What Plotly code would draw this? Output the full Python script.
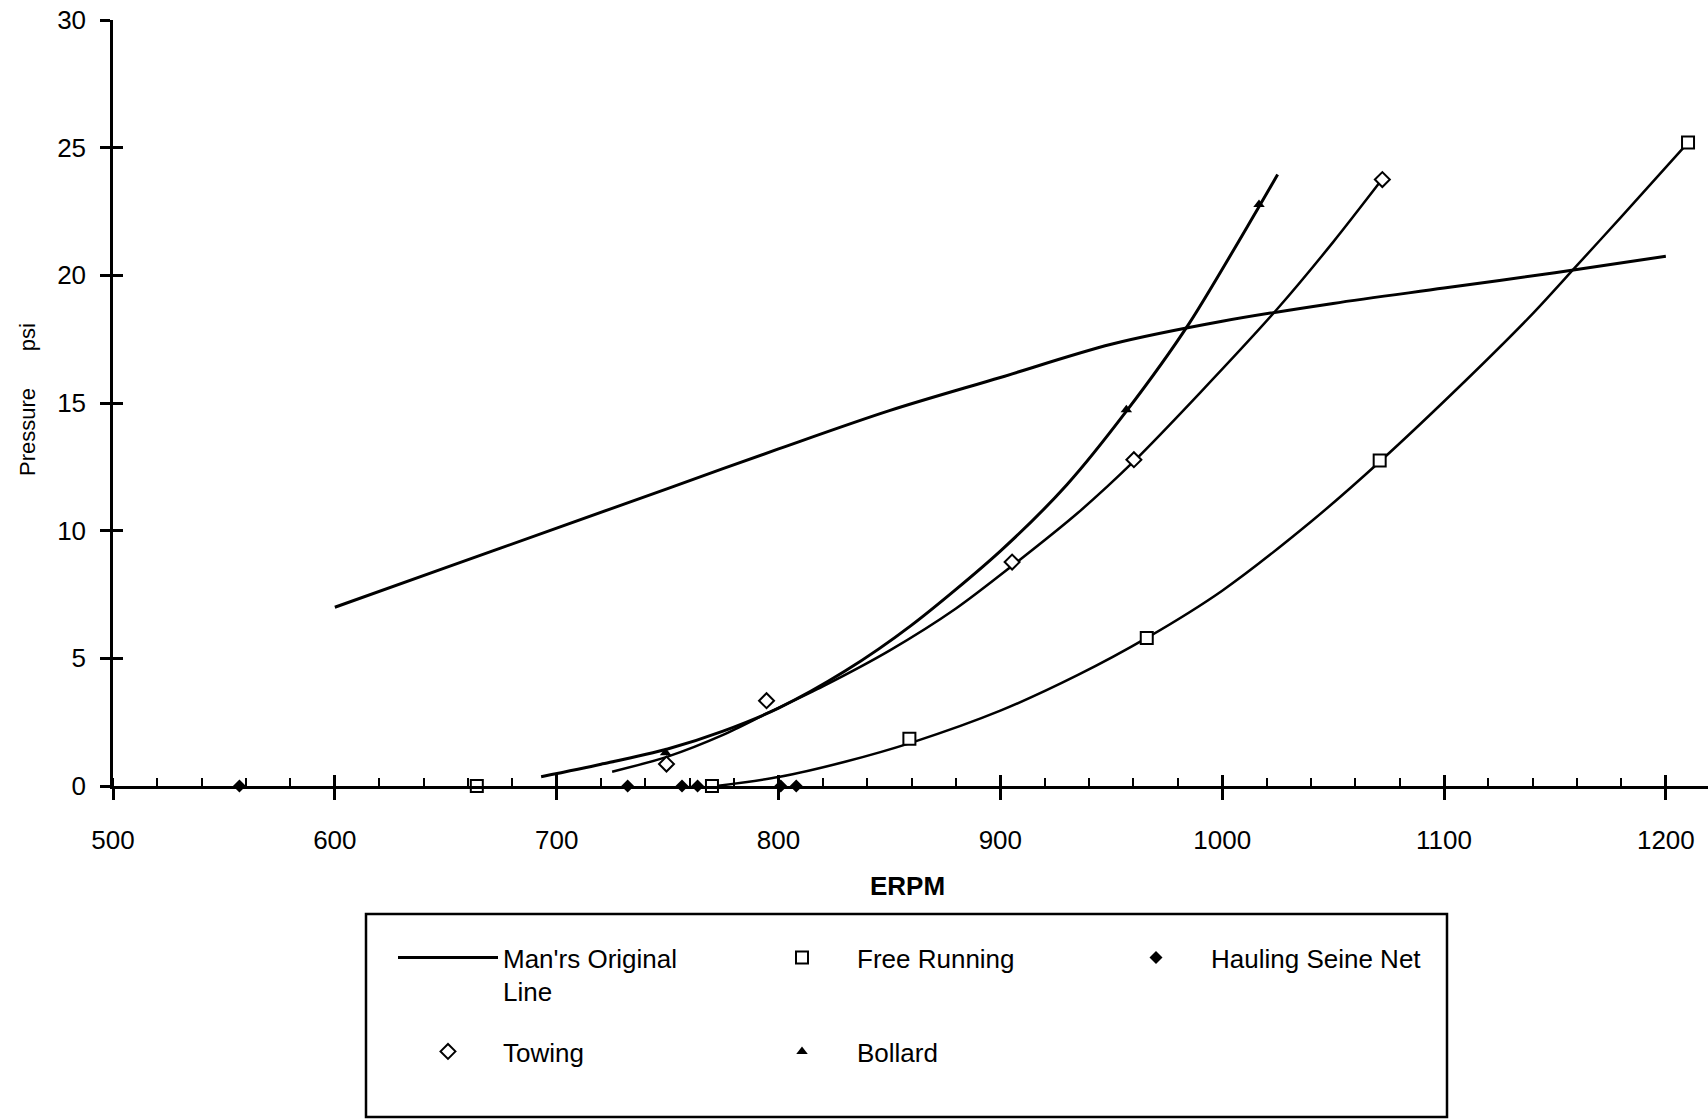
import plotly.graph_objects as go

# ---------------- data ----------------
man_x = [600, 650, 700, 750, 800, 850, 900, 950, 1000, 1050, 1100, 1150, 1200]
man_y = [7.0, 8.55, 10.1, 11.65, 13.2, 14.7, 16.0, 17.3, 18.2, 18.9, 19.5, 20.1, 20.75]

free_x = [664, 770, 859, 966, 1071, 1210]
free_y = [0.0, 0.0, 1.85, 5.8, 12.75, 25.2]
free_fit_x = [772, 800, 830, 860, 900, 935, 966, 1000, 1040, 1071, 1110, 1140, 1159, 1180, 1210]
free_fit_y = [0.0, 0.35, 0.95, 1.7, 2.95, 4.35, 5.8, 7.65, 10.35, 12.7, 15.9, 18.5, 20.3, 22.3, 25.2]

haul_x = [557, 732, 756.5, 763.5, 801, 808]
haul_y = [0, 0, 0, 0, 0, 0]

tow_x = [749.5, 794.6, 905.3, 960.2, 1072.2]
tow_y = [0.86, 3.34, 8.77, 12.78, 23.75]
tow_fit_x = [725, 750, 775, 795, 820, 850, 880, 905, 935, 960, 990, 1025, 1050, 1072]
tow_fit_y = [0.56, 1.15, 2.0, 2.85, 3.9, 5.3, 6.95, 8.6, 10.7, 12.7, 15.4, 18.7, 21.3, 23.75]

bol_x = [749.1, 956.8, 1016.6]
bol_y = [1.3, 14.74, 22.77]
bol_fit_x = [693, 720, 750, 775, 800, 830, 860, 900, 930, 957, 985, 1016, 1025]
bol_fit_y = [0.36, 0.85, 1.45, 2.15, 3.05, 4.5, 6.3, 9.2, 11.8, 14.7, 18.1, 22.6, 23.95]

x_range = [500, 1219]
y_range = [0, 30]
x_ticks = [500, 600, 700, 800, 900, 1000, 1100, 1200]
y_ticks = [0, 5, 10, 15, 20, 25, 30]

# ---------------- layout geometry ----------------
W, H = 1708, 1120
ML, MR, MT, MB = 113, 0, 20, 334
PW, PH = W - ML - MR, H - MT - MB


def px_x(px):
    return (px - ML) / PW


def px_y(py):
    return (H - MB - py) / PH


FONT = "Liberation Sans, Arial, Helvetica, sans-serif"
BLACK = "#000000"

fig = go.Figure()

# curves
fig.add_trace(go.Scatter(x=man_x, y=man_y, mode="lines", name="Man'rs Original<br>Line",
                         line=dict(color=BLACK, width=3, shape="spline", smoothing=0.9),
                         legend="legend"))
fig.add_trace(go.Scatter(x=free_fit_x, y=free_fit_y, mode="lines", showlegend=False,
                         line=dict(color=BLACK, width=2.5, shape="spline", smoothing=0.8)))
fig.add_trace(go.Scatter(x=tow_fit_x, y=tow_fit_y, mode="lines", showlegend=False,
                         line=dict(color=BLACK, width=2.5, shape="spline", smoothing=0.8)))
fig.add_trace(go.Scatter(x=bol_fit_x, y=bol_fit_y, mode="lines", showlegend=False,
                         line=dict(color=BLACK, width=3, shape="spline", smoothing=0.8)))

# data markers
fig.add_trace(go.Scatter(x=free_x, y=free_y, mode="markers", name="Free Running",
                         marker=dict(symbol="square", size=12, color="white",
                                     line=dict(color=BLACK, width=2)),
                         cliponaxis=False, legend="legend"))
fig.add_trace(go.Scatter(x=haul_x, y=haul_y, mode="markers", name="Hauling Seine Net",
                         marker=dict(symbol="diamond", size=10, color=BLACK,
                                     line=dict(color=BLACK, width=0)),
                         cliponaxis=False, legend="legend"))
fig.add_trace(go.Scatter(x=tow_x, y=tow_y, mode="markers", name="Towing",
                         marker=dict(symbol="diamond", size=11.5, color="white",
                                     line=dict(color=BLACK, width=2)),
                         cliponaxis=False, legend="legend2"))
fig.add_trace(go.Scatter(x=bol_x, y=bol_y, mode="markers", name="Bollard",
                         marker=dict(symbol="triangle-up", size=10, color=BLACK,
                                     line=dict(color=BLACK, width=0)),
                         cliponaxis=False, legend="legend2"))

# empty trace for the overlay axes (inside halves of the crossing ticks)
fig.add_trace(go.Scatter(x=[], y=[], xaxis="x2", yaxis="y2", showlegend=False))

tickfont = dict(family=FONT, size=26, color=BLACK)
legfont = dict(family=FONT, size=26, color=BLACK)

common_leg = dict(orientation="h", xanchor="left", yanchor="top", itemwidth=100,
                  entrywidth=239, entrywidthmode="pixels", font=legfont,
                  bgcolor="rgba(0,0,0,0)", borderwidth=0, valign="top",
                  traceorder="normal")

fig.update_layout(
    width=W, height=H,
    margin=dict(l=ML, r=MR, t=MT, b=MB, autoexpand=False),
    paper_bgcolor="white", plot_bgcolor="white",
    font=dict(family=FONT, color=BLACK),
    showlegend=True,
    xaxis=dict(range=x_range, tickvals=x_ticks, ticktext=[str(v) for v in x_ticks],
               showgrid=False, zeroline=False, showline=True, linecolor=BLACK, linewidth=2.5,
               ticks="outside", ticklen=11, tickwidth=2.5, tickcolor=BLACK,
               tickfont=tickfont, ticklabelstandoff=18,
               minor=dict(ticks="inside", ticklen=8, tickwidth=2, tickcolor=BLACK,
                          tick0=500, dtick=20, showgrid=False)),
    yaxis=dict(range=y_range, tickvals=y_ticks, ticktext=[str(v) for v in y_ticks],
               showgrid=False, zeroline=False, showline=True, linecolor=BLACK, linewidth=2.5,
               ticks="outside", ticklen=10, tickwidth=2.5, tickcolor=BLACK,
               tickfont=tickfont, ticklabelstandoff=9),
    xaxis2=dict(range=x_range, overlaying="x", anchor="y", side="bottom", tickvals=x_ticks,
                showticklabels=False, showgrid=False, zeroline=False, showline=False,
                ticks="inside", ticklen=11, tickwidth=2.5, tickcolor=BLACK),
    yaxis2=dict(range=y_range, overlaying="y", anchor="x", side="left", tickvals=y_ticks,
                showticklabels=False, showgrid=False, zeroline=False, showline=False,
                ticks="inside", ticklen=10, tickwidth=2.5, tickcolor=BLACK),
    legend=dict(x=px_x(393), y=px_y(934), **common_leg),
    legend2=dict(x=px_x(393), y=px_y(1028), **common_leg),
    shapes=[dict(type="rect", xref="paper", yref="paper",
                 x0=px_x(366), x1=px_x(1447), y0=px_y(914), y1=px_y(1117),
                 line=dict(color=BLACK, width=2.5), fillcolor="rgba(0,0,0,0)")],
    annotations=[
        dict(text="<b>ERPM</b>", xref="paper", yref="paper", x=px_x(907), y=px_y(886),
             xanchor="center", yanchor="middle", showarrow=False,
             font=dict(family=FONT, size=26, color=BLACK)),
        dict(text="Pressure" + "\u00a0" * 6 + "psi", xref="paper", yref="paper",
             x=px_x(27), y=px_y(400), xanchor="center", yanchor="middle",
             textangle=-90, showarrow=False,
             font=dict(family=FONT, size=22, color=BLACK)),
    ],
)

fig.write_html("out.html")
